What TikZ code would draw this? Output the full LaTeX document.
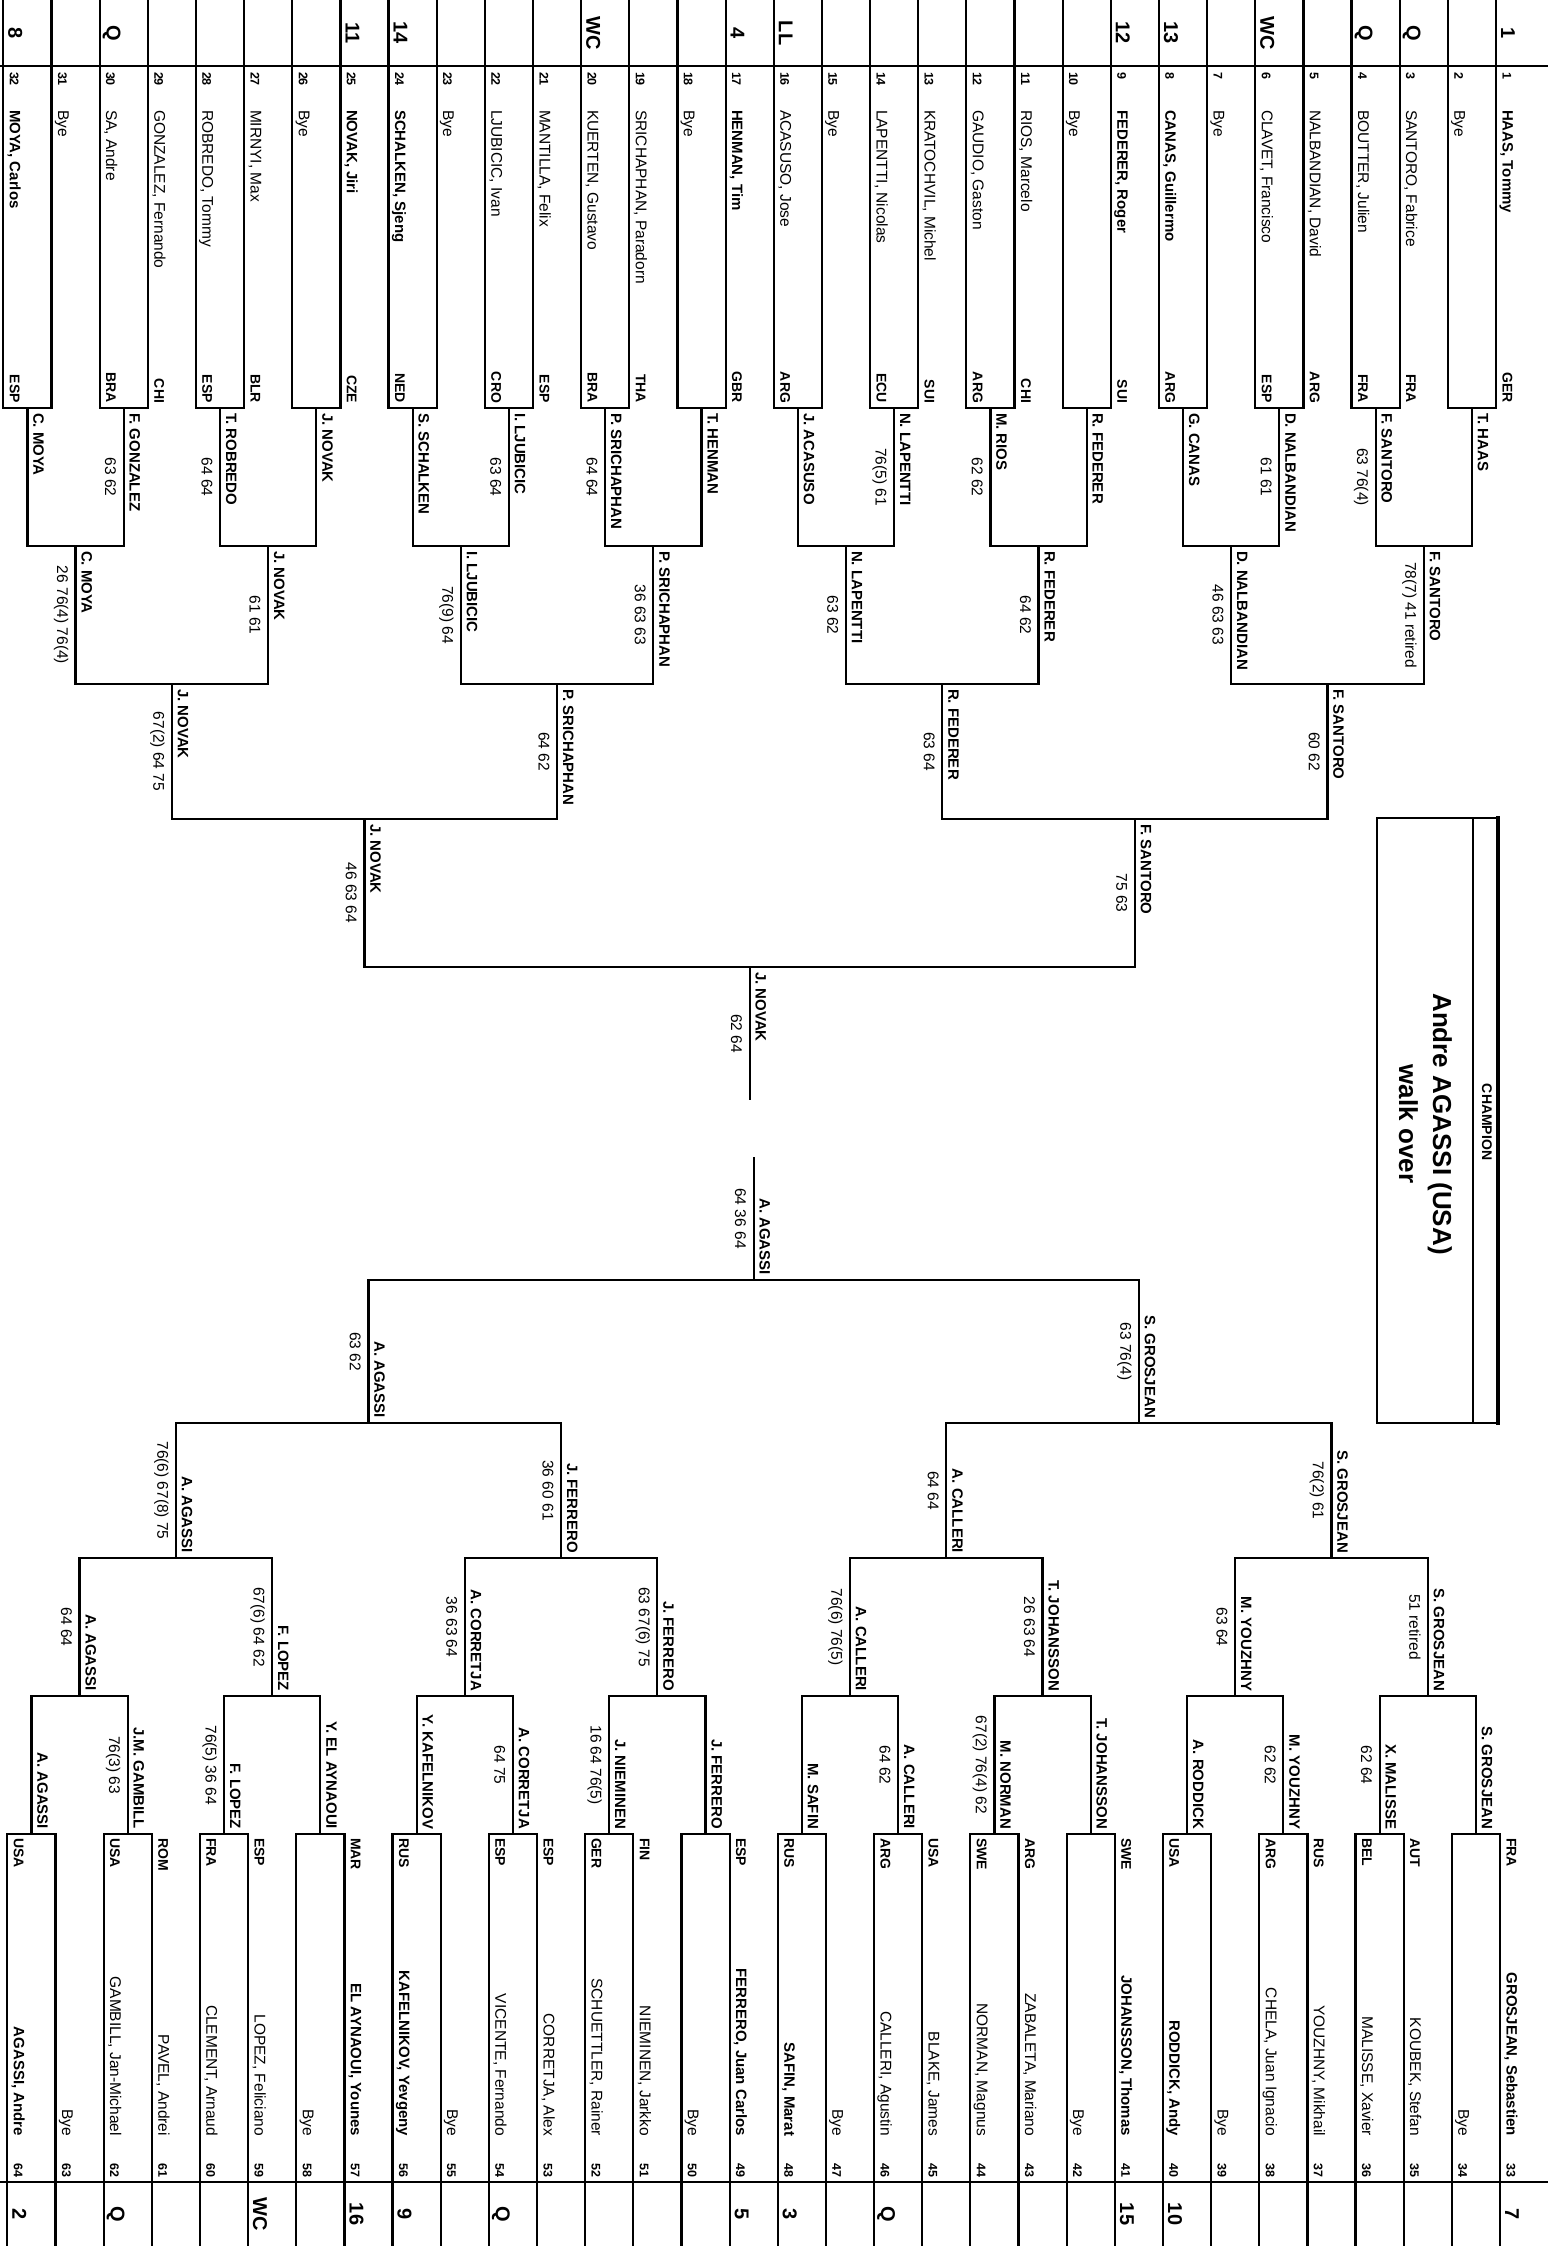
\documentclass[tikz,border=0pt]{standalone}
\usepackage{fontspec}
\setmainfont{Liberation Sans}
\newcommand\Brk[5]{%
  \foreach \j in {1,...,#3}{%
    \pgfmathsetmacro\xa{#1-(#2*(2*\j-1)-(#2+1)/2)*48.15}%
    \pgfmathsetmacro\xb{#1-(#2*(2*\j)-(#2+1)/2)*48.15}%
    \draw[ln] (\xa,-#4) -- (\xa,-#5) -- (\xb,-#5) -- (\xb,-#4);
  }}
\newcommand\TopP[5]{%
  \pgfmathsetmacro\xp{1496-(#1-1)*48.15}%
  \node[num,anchor=base west] (tk#1) at (\xp+6.5,-72) {#1};
  \node[#5,anchor=base west] (tn#1) at (\xp+6.5,-110) {#2};
  \node[cty,anchor=base east] (tc#1) at (\xp+6.5,-403) {#3};
  \node[seed] (ts#1) at (\xp+12,-33) {#4};}
\newcommand\BotP[5]{%
  \pgfmathsetmacro\xp{1500-(#1-33)*48.15}%
  \node[num,anchor=base east] (bk#1) at (\xp+6.5,-2177) {#1};
  \node[#5,anchor=base east] (bn#1) at (\xp+6.5,-2136) {#2};
  \node[cty,anchor=base west] (bc#1) at (\xp+6.5,-1838) {#3};
  \node[seed] (bs#1) at (\xp+12,-2214) {#4};}
\newcommand\TopW[7]{%
  \pgfmathsetmacro\xw{1496-(#2*#3-(#2+1)/2)*48.15}%
  \node[win,anchor=base west] (#1n) at (\xw+6,-#4-5) {#6};
  \node[sc,anchor=base] (#1s) at (\xw-18.5,{-(#4+#5)/2}) {#7};}
\newcommand\BotW[7]{%
  \pgfmathsetmacro\xw{1500-(#2*#3-(#2+1)/2)*48.15}%
  \node[win,anchor=base east] (#1n) at (\xw+6,-#4+5) {#6};
  \node[sc,anchor=base] (#1s) at (\xw-18.5,{-(#4+#5)/2}) {#7};}
\begin{document}
\begin{tikzpicture}[x=1pt,y=1pt,
  ln/.style={line width=2.2pt,line join=miter},
  txt/.style={rotate=-90,inner sep=0pt,outer sep=0pt},
  nm/.style={txt,font=\fontsize{15.5}{18}\selectfont},
  nmb/.style={txt,font=\bfseries\fontsize{15}{18}\selectfont},
  num/.style={txt,font=\bfseries\fontsize{12.5}{15}\selectfont},
  cty/.style={txt,font=\bfseries\fontsize{14}{16}\selectfont},
  seed/.style={txt,font=\bfseries\fontsize{20}{24}\selectfont},
  win/.style={txt,font=\bfseries\fontsize{15}{18}\selectfont},
  sc/.style={txt,font=\fontsize{15.5}{18}\selectfont}]
\fill[white] (0,0) rectangle (1548,-2246);
\useasboundingbox (0,0) rectangle (1548,-2246);

% separators of seed rows
\draw[ln] (0,-66) -- (1548,-66);
\draw[ln] (0,-2182) -- (1548,-2182);

% ---------- brackets, top half ----------
\Brk{1496}{1}{16}{0}{408}
\Brk{1496}{2}{8}{408}{546}
\Brk{1496}{4}{4}{546}{684}
\Brk{1496}{8}{2}{684}{819}
\Brk{1496}{16}{1}{819}{967}
\pgfmathsetmacro\xf{1496-15.5*48.15}
\draw[ln] (\xf,-967) -- (\xf,-1100);

% ---------- brackets, bottom half ----------
\Brk{1500}{1}{16}{2246}{1834}
\Brk{1500}{2}{8}{1834}{1696}
\Brk{1500}{4}{4}{1696}{1558}
\Brk{1500}{8}{2}{1558}{1423}
\Brk{1500}{16}{1}{1423}{1280}
\pgfmathsetmacro\xfb{1500-15.5*48.15}
\draw[ln] (\xfb,-1280) -- (\xfb,-1157);

% ---------- first round, top ----------
\TopP{1}{HAAS, Tommy}{GER}{1}{nmb}
\TopP{2}{Bye}{}{}{nm}
\TopP{3}{SANTORO, Fabrice}{FRA}{Q}{nm}
\TopP{4}{BOUTTER, Julien}{FRA}{Q}{nm}
\TopP{5}{NALBANDIAN, David}{ARG}{}{nm}
\TopP{6}{CLAVET, Francisco}{ESP}{WC}{nm}
\TopP{7}{Bye}{}{}{nm}
\TopP{8}{CANAS, Guillermo}{ARG}{13}{nmb}
\TopP{9}{FEDERER, Roger}{SUI}{12}{nmb}
\TopP{10}{Bye}{}{}{nm}
\TopP{11}{RIOS, Marcelo}{CHI}{}{nm}
\TopP{12}{GAUDIO, Gaston}{ARG}{}{nm}
\TopP{13}{KRATOCHVIL, Michel}{SUI}{}{nm}
\TopP{14}{LAPENTTI, Nicolas}{ECU}{}{nm}
\TopP{15}{Bye}{}{}{nm}
\TopP{16}{ACASUSO, Jose}{ARG}{LL}{nm}
\TopP{17}{HENMAN, Tim}{GBR}{4}{nmb}
\TopP{18}{Bye}{}{}{nm}
\TopP{19}{SRICHAPHAN, Paradorn}{THA}{}{nm}
\TopP{20}{KUERTEN, Gustavo}{BRA}{WC}{nm}
\TopP{21}{MANTILLA, Felix}{ESP}{}{nm}
\TopP{22}{LJUBICIC, Ivan}{CRO}{}{nm}
\TopP{23}{Bye}{}{}{nm}
\TopP{24}{SCHALKEN, Sjeng}{NED}{14}{nmb}
\TopP{25}{NOVAK, Jiri}{CZE}{11}{nmb}
\TopP{26}{Bye}{}{}{nm}
\TopP{27}{MIRNYI, Max}{BLR}{}{nm}
\TopP{28}{ROBREDO, Tommy}{ESP}{}{nm}
\TopP{29}{GONZALEZ, Fernando}{CHI}{}{nm}
\TopP{30}{SA, Andre}{BRA}{Q}{nm}
\TopP{31}{Bye}{}{}{nm}
\TopP{32}{MOYA, Carlos}{ESP}{8}{nmb}

% ---------- first round, bottom ----------
\BotP{33}{GROSJEAN, Sebastien}{FRA}{7}{nmb}
\BotP{34}{Bye}{}{}{nm}
\BotP{35}{KOUBEK, Stefan}{AUT}{}{nm}
\BotP{36}{MALISSE, Xavier}{BEL}{}{nm}
\BotP{37}{YOUZHNY, Mikhail}{RUS}{}{nm}
\BotP{38}{CHELA, Juan Ignacio}{ARG}{}{nm}
\BotP{39}{Bye}{}{}{nm}
\BotP{40}{RODDICK, Andy}{USA}{10}{nmb}
\BotP{41}{JOHANSSON, Thomas}{SWE}{15}{nmb}
\BotP{42}{Bye}{}{}{nm}
\BotP{43}{ZABALETA, Mariano}{ARG}{}{nm}
\BotP{44}{NORMAN, Magnus}{SWE}{}{nm}
\BotP{45}{BLAKE, James}{USA}{}{nm}
\BotP{46}{CALLERI, Agustin}{ARG}{Q}{nm}
\BotP{47}{Bye}{}{}{nm}
\BotP{48}{SAFIN, Marat}{RUS}{3}{nmb}
\BotP{49}{FERRERO, Juan Carlos}{ESP}{5}{nmb}
\BotP{50}{Bye}{}{}{nm}
\BotP{51}{NIEMINEN, Jarkko}{FIN}{}{nm}
\BotP{52}{SCHUETTLER, Rainer}{GER}{}{nm}
\BotP{53}{CORRETJA, Alex}{ESP}{}{nm}
\BotP{54}{VICENTE, Fernando}{ESP}{Q}{nm}
\BotP{55}{Bye}{}{}{nm}
\BotP{56}{KAFELNIKOV, Yevgeny}{RUS}{9}{nmb}
\BotP{57}{EL AYNAOUI, Younes}{MAR}{16}{nmb}
\BotP{58}{Bye}{}{}{nm}
\BotP{59}{LOPEZ, Feliciano}{ESP}{WC}{nm}
\BotP{60}{CLEMENT, Arnaud}{FRA}{}{nm}
\BotP{61}{PAVEL, Andrei}{ROM}{}{nm}
\BotP{62}{GAMBILL, Jan-Michael}{USA}{Q}{nm}
\BotP{63}{Bye}{}{}{nm}
\BotP{64}{AGASSI, Andre}{USA}{2}{nmb}

% ---------- winners, top half ----------
\TopW{ta1}{2}{1}{408}{546}{T. HAAS}{}
\TopW{ta2}{2}{2}{408}{546}{F. SANTORO}{63 76(4)}
\TopW{ta3}{2}{3}{408}{546}{D. NALBANDIAN}{61 61}
\TopW{ta4}{2}{4}{408}{546}{G. CANAS}{}
\TopW{ta5}{2}{5}{408}{546}{R. FEDERER}{}
\TopW{ta6}{2}{6}{408}{546}{M. RIOS}{62 62}
\TopW{ta7}{2}{7}{408}{546}{N. LAPENTTI}{76(5) 61}
\TopW{ta8}{2}{8}{408}{546}{J. ACASUSO}{}
\TopW{ta9}{2}{9}{408}{546}{T. HENMAN}{}
\TopW{ta10}{2}{10}{408}{546}{P. SRICHAPHAN}{64 64}
\TopW{ta11}{2}{11}{408}{546}{I. LJUBICIC}{63 64}
\TopW{ta12}{2}{12}{408}{546}{S. SCHALKEN}{}
\TopW{ta13}{2}{13}{408}{546}{J. NOVAK}{}
\TopW{ta14}{2}{14}{408}{546}{T. ROBREDO}{64 64}
\TopW{ta15}{2}{15}{408}{546}{F. GONZALEZ}{63 62}
\TopW{ta16}{2}{16}{408}{546}{C. MOYA}{}

\TopW{tb1}{4}{1}{546}{684}{F. SANTORO}{78(7) 41 retired}
\TopW{tb2}{4}{2}{546}{684}{D. NALBANDIAN}{46 63 63}
\TopW{tb3}{4}{3}{546}{684}{R. FEDERER}{64 62}
\TopW{tb4}{4}{4}{546}{684}{N. LAPENTTI}{63 62}
\TopW{tb5}{4}{5}{546}{684}{P. SRICHAPHAN}{36 63 63}
\TopW{tb6}{4}{6}{546}{684}{I. LJUBICIC}{76(9) 64}
\TopW{tb7}{4}{7}{546}{684}{J. NOVAK}{61 61}
\TopW{tb8}{4}{8}{546}{684}{C. MOYA}{26 76(4) 76(4)}

\TopW{tc1}{8}{1}{684}{819}{F. SANTORO}{60 62}
\TopW{tc2}{8}{2}{684}{819}{R. FEDERER}{63 64}
\TopW{tc3}{8}{3}{684}{819}{P. SRICHAPHAN}{64 62}
\TopW{tc4}{8}{4}{684}{819}{J. NOVAK}{67(2) 64 75}

\TopW{td1}{16}{1}{819}{967}{F. SANTORO}{75 63}
\TopW{td2}{16}{2}{819}{967}{J. NOVAK}{46 63 64}

\TopW{te1}{32}{1}{967}{1100}{J. NOVAK}{62 64}

% ---------- winners, bottom half ----------
\BotW{ba1}{2}{1}{1834}{1696}{S. GROSJEAN}{}
\BotW{ba2}{2}{2}{1834}{1696}{X. MALISSE}{62 64}
\BotW{ba3}{2}{3}{1834}{1696}{M. YOUZHNY}{62 62}
\BotW{ba4}{2}{4}{1834}{1696}{A. RODDICK}{}
\BotW{ba5}{2}{5}{1834}{1696}{T. JOHANSSON}{}
\BotW{ba6}{2}{6}{1834}{1696}{M. NORMAN}{67(2) 76(4) 62}
\BotW{ba7}{2}{7}{1834}{1696}{A. CALLERI}{64 62}
\BotW{ba8}{2}{8}{1834}{1696}{M. SAFIN}{}
\BotW{ba9}{2}{9}{1834}{1696}{J. FERRERO}{}
\BotW{ba10}{2}{10}{1834}{1696}{J. NIEMINEN}{16 64 76(5)}
\BotW{ba11}{2}{11}{1834}{1696}{A. CORRETJA}{64 75}
\BotW{ba12}{2}{12}{1834}{1696}{Y. KAFELNIKOV}{}
\BotW{ba13}{2}{13}{1834}{1696}{Y. EL AYNAOUI}{}
\BotW{ba14}{2}{14}{1834}{1696}{F. LOPEZ}{76(5) 36 64}
\BotW{ba15}{2}{15}{1834}{1696}{J.M. GAMBILL}{76(3) 63}
\BotW{ba16}{2}{16}{1834}{1696}{A. AGASSI}{}

\BotW{bb1}{4}{1}{1696}{1558}{S. GROSJEAN}{51 retired}
\BotW{bb2}{4}{2}{1696}{1558}{M. YOUZHNY}{63 64}
\BotW{bb3}{4}{3}{1696}{1558}{T. JOHANSSON}{26 63 64}
\BotW{bb4}{4}{4}{1696}{1558}{A. CALLERI}{76(6) 76(5)}
\BotW{bb5}{4}{5}{1696}{1558}{J. FERRERO}{63 67(6) 75}
\BotW{bb6}{4}{6}{1696}{1558}{A. CORRETJA}{36 63 64}
\BotW{bb7}{4}{7}{1696}{1558}{F. LOPEZ}{67(6) 64 62}
\BotW{bb8}{4}{8}{1696}{1558}{A. AGASSI}{64 64}

\BotW{bc1}{8}{1}{1558}{1423}{S. GROSJEAN}{76(2) 61}
\BotW{bc2}{8}{2}{1558}{1423}{A. CALLERI}{64 64}
\BotW{bc3}{8}{3}{1558}{1423}{J. FERRERO}{36 60 61}
\BotW{bc4}{8}{4}{1558}{1423}{A. AGASSI}{76(6) 67(8) 75}

\BotW{bd1}{16}{1}{1423}{1280}{S. GROSJEAN}{63 76(4)}
\BotW{bd2}{16}{2}{1423}{1280}{A. AGASSI}{63 62}

\BotW{be1}{32}{1}{1280}{1157}{A. AGASSI}{64 36 64}

% ---------- champion box ----------
\draw[line width=2.5pt] (1377,-818) rectangle (1498,-1423);
\draw[ln] (1473,-818) -- (1473,-1423);
\draw[line width=4pt] (1498,-816) -- (1498,-1425);
\node[txt,font=\bfseries\fontsize{14}{16}\selectfont] (champ) at (1487,-1122) {CHAMPION};
\node[txt,anchor=base,font=\bfseries\fontsize{26}{30}\selectfont] (cname) at (1433,-1124) {Andre AGASSI (USA)};
\node[txt,anchor=base,font=\bfseries\fontsize{26}{30}\selectfont] (cwo) at (1399,-1124) {walk over};
\end{tikzpicture}
\end{document}
